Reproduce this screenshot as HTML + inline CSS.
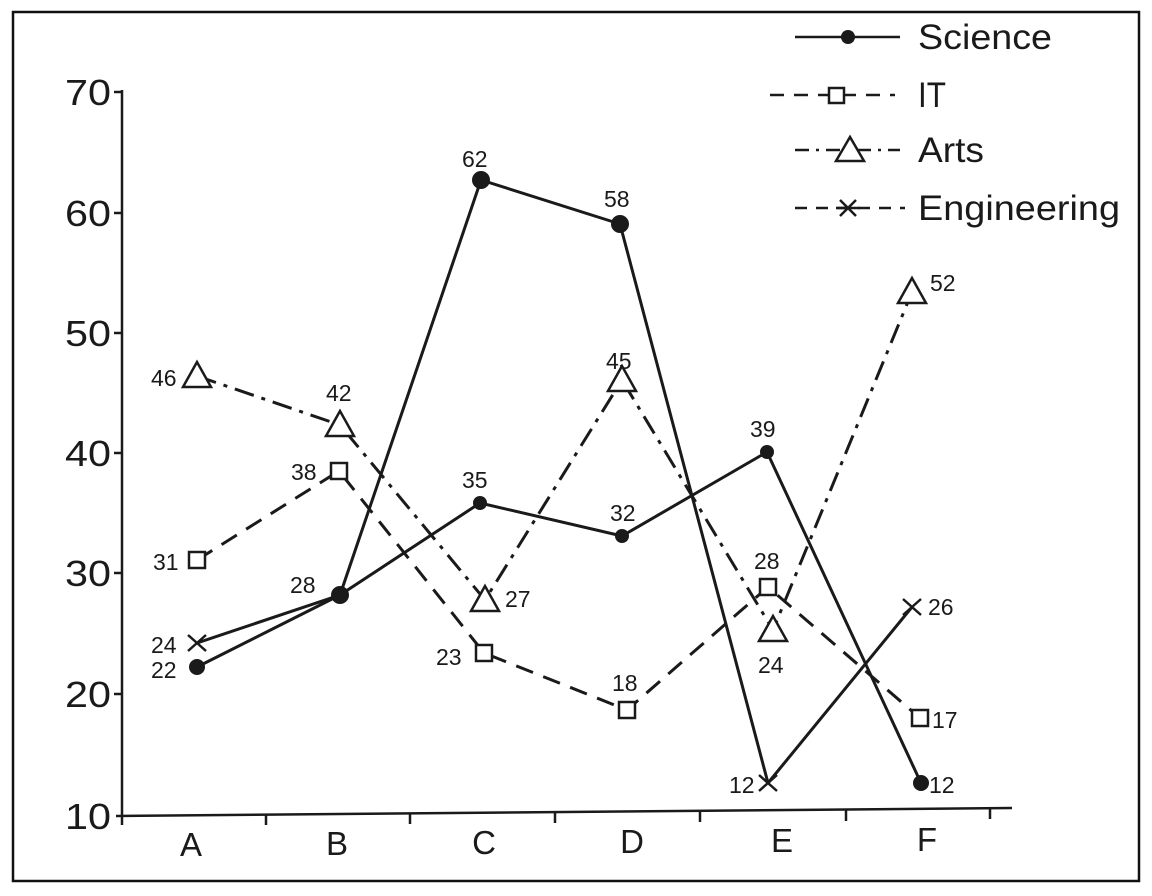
<!DOCTYPE html>
<html><head><meta charset="utf-8"><style>
html,body{margin:0;padding:0;background:#fff;}
svg{display:block;font-family:"Liberation Sans",Arial,sans-serif;}
</style></head><body>
<svg width="1152" height="896" viewBox="0 0 1152 896" xmlns="http://www.w3.org/2000/svg">
<rect x="0" y="0" width="1152" height="896" fill="#fff"/>
<rect x="13" y="12" width="1126" height="869" fill="none" stroke="#111" stroke-width="2.5"/>
<g stroke="#1a1a1a" stroke-width="2.5" fill="none">
<line x1="122" y1="90" x2="122" y2="825"/>
<line x1="116" y1="816" x2="1012" y2="808"/>
<line x1="114" y1="92" x2="122" y2="92"/>
<line x1="114" y1="213" x2="122" y2="213"/>
<line x1="114" y1="333" x2="122" y2="333"/>
<line x1="114" y1="453" x2="122" y2="453"/>
<line x1="114" y1="573" x2="122" y2="573"/>
<line x1="114" y1="694" x2="122" y2="694"/>
<line x1="266" y1="814" x2="266" y2="825"/>
<line x1="410" y1="813" x2="410" y2="824"/>
<line x1="555" y1="812" x2="555" y2="823"/>
<line x1="700" y1="811" x2="700" y2="822"/>
<line x1="846" y1="810" x2="846" y2="821"/>
<line x1="990" y1="808" x2="990" y2="819"/>
</g>
<g font-size="36" fill="#1a1a1a">
<text x="65" y="105" textLength="46" lengthAdjust="spacingAndGlyphs">70</text><text x="65" y="226" textLength="46" lengthAdjust="spacingAndGlyphs">60</text><text x="65" y="346" textLength="46" lengthAdjust="spacingAndGlyphs">50</text>
<text x="65" y="466" textLength="46" lengthAdjust="spacingAndGlyphs">40</text><text x="65" y="586" textLength="46" lengthAdjust="spacingAndGlyphs">30</text><text x="65" y="707" textLength="46" lengthAdjust="spacingAndGlyphs">20</text><text x="65" y="829" textLength="46" lengthAdjust="spacingAndGlyphs">10</text>
</g>
<g font-size="33" fill="#1a1a1a" text-anchor="middle">
<text x="191" y="856">A</text><text x="337" y="855">B</text><text x="484" y="854">C</text>
<text x="632" y="853">D</text><text x="782" y="852">E</text><text x="927" y="851">F</text>
</g>
<g stroke="#1a1a1a" stroke-width="3" fill="none">
<polyline points="197,667 340,595 481,180 620,224 768,783"/>
<polyline points="197,643 340,595 480,503 622,536 767,452 921,783"/>
<polyline points="768,783 912,607"/>
</g>
<polyline points="197,560 339,471 484,653 627,710 768,587 920,718" stroke="#1a1a1a" stroke-width="3" fill="none" stroke-dasharray="18,11"/>
<polyline points="197,376 340,425 485,600 622,380 773,630 912,292" stroke="#1a1a1a" stroke-width="3" fill="none" stroke-dasharray="20,8,4,8"/>
<g fill="#1a1a1a">
<circle cx="197" cy="667" r="8"/><circle cx="340" cy="595" r="9"/><circle cx="481" cy="180" r="9"/>
<circle cx="620" cy="224" r="9"/><circle cx="480" cy="503" r="7"/><circle cx="622" cy="536" r="7"/>
<circle cx="767" cy="452" r="7"/><circle cx="921" cy="783" r="8"/>
</g>
<g stroke="#1a1a1a" stroke-width="2.5" fill="#fff">
<rect x="189" y="552" width="16" height="16"/><rect x="331" y="463" width="16" height="16"/>
<rect x="476" y="645" width="16" height="16"/><rect x="619" y="702" width="16" height="16"/>
<rect x="760" y="579" width="16" height="16"/><rect x="912" y="710" width="16" height="16"/>
<polygon points="197,362 183,387 211,387"/><polygon points="340,411 326,436 354,436"/>
<polygon points="485,586 471,611 499,611"/><polygon points="622,366 608,391 636,391"/>
<polygon points="773,616 759,641 787,641"/><polygon points="912,278 898,303 926,303"/>
<path d="M188,635 L206,651 M206,635 L188,651 M759,775 L777,791 M777,775 L759,791 M903,599 L921,615 M921,599 L903,615" fill="none"/>
</g>
<g font-size="23" fill="#1a1a1a">
<text x="151" y="386">46</text><text x="326" y="401">42</text><text x="462" y="167">62</text>
<text x="604" y="207">58</text><text x="462" y="488">35</text><text x="610" y="521">32</text>
<text x="750" y="437">39</text><text x="606" y="369">45</text><text x="930" y="291">52</text>
<text x="153" y="570">31</text><text x="291" y="480">38</text><text x="290" y="593">28</text>
<text x="436" y="665">23</text><text x="612" y="691">18</text><text x="754" y="569">28</text>
<text x="505" y="607">27</text><text x="758" y="673">24</text><text x="932" y="728">17</text>
<text x="151" y="653">24</text><text x="151" y="678">22</text><text x="729" y="793">12</text>
<text x="929" y="793">12</text><text x="928" y="615">26</text>
</g>
<g stroke="#1a1a1a" stroke-width="2.5" fill="none">
<line x1="795" y1="37" x2="900" y2="37"/>
<line x1="770" y1="95" x2="895" y2="95" stroke-dasharray="14,10"/>
<line x1="795" y1="150" x2="900" y2="150" stroke-dasharray="14,7,3,7"/>
<line x1="795" y1="208" x2="905" y2="208" stroke-dasharray="12,9"/>
</g>
<circle cx="848" cy="37" r="7" fill="#1a1a1a"/>
<rect x="829" y="88" width="15" height="15" fill="#fff" stroke="#1a1a1a" stroke-width="2.5"/>
<polygon points="850,137 836,161 864,161" fill="#fff" stroke="#1a1a1a" stroke-width="2.5"/>
<path d="M840,200 L856,216 M856,200 L840,216 M836,208 L860,208" stroke="#1a1a1a" stroke-width="2.5"/>
<g font-size="35" fill="#1a1a1a">
<text x="918" y="49" textLength="134" lengthAdjust="spacingAndGlyphs">Science</text><text x="918" y="107" textLength="28" lengthAdjust="spacingAndGlyphs">IT</text>
<text x="918" y="162" textLength="66" lengthAdjust="spacingAndGlyphs">Arts</text><text x="918" y="220" textLength="202" lengthAdjust="spacingAndGlyphs">Engineering</text>
</g>
</svg>
</body></html>
